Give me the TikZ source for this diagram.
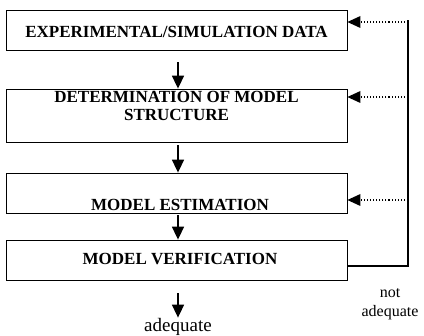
\documentclass[tikz,border=0pt]{standalone}
\usepackage{fontspec}
\setmainfont{Liberation Serif}
\usetikzlibrary{arrows.meta}
\tikzset{
  box/.style={draw, line width=0.8pt, minimum width=341pt, inner sep=0pt},
  lbl/.style={font=\fontsize{17}{18}\selectfont\bfseries, align=center, inner sep=0pt},
  darr/.style={line width=1.6pt, -{Triangle[length=13pt,width=12pt]}},
  dotarr/.style={line width=1.1pt, dotted, -{Triangle[length=13pt,width=12pt,line width=0pt]}},
  fb/.style={line width=1.8pt},
  txt/.style={font=\fontsize{16}{19}\selectfont, align=center, inner sep=0pt}
}
\begin{document}
\begin{tikzpicture}[x=1pt,y=-1pt]
\useasboundingbox (0,0) rectangle (424,336);
\fill[white] (0,0) rectangle (424,336);
% boxes
\node[box, minimum height=40pt] (b1) at (176.5,30) {};
\node[box, minimum height=53pt] (b2) at (176.5,115.5) {};
\node[box, minimum height=40pt] (b3) at (176.5,193) {};
\node[box, minimum height=40pt] (b4) at (176.5,260) {};
% labels
\node[lbl] (t1) at (176.5,32) {EXPERIMENTAL/SIMULATION DATA};
\node[lbl] (t2) at (176.5,106) {DETERMINATION OF MODEL\\STRUCTURE};
\node[lbl] (t3) at (180,205) {MODEL ESTIMATION};
\node[lbl] (t4) at (180,259) {MODEL VERIFICATION};
\node[txt, anchor=base, font=\fontsize{19}{21}\selectfont] (adq) at (178,332) {adequate};
\node[txt] (na) at (390,304) {not\\adequate};
% down arrows
\draw[darr] ([xshift=1.5pt,yshift=-12pt]b1.south) -- ([xshift=1.5pt]b2.north);
\draw[darr] ([xshift=1.5pt,yshift=-3pt]b2.south) -- ([xshift=1.5pt]b3.north);
\draw[darr] ([xshift=1.5pt,yshift=-2pt]b3.south) -- ([xshift=1.5pt]b4.north);
\draw[darr] ([xshift=1.5pt,yshift=-13pt]b4.south) -- ([yshift=1pt]adq.north);
% feedback
\coordinate (fbTop) at (408,20);
\coordinate (fbBot) at (408,266);
\coordinate (d1) at ([yshift=8pt]b1.east);
\coordinate (d2) at ([yshift=18.5pt]b2.east);
\coordinate (d3) at ([yshift=-7pt]b3.east);
\draw[fb] ([yshift=-6pt]b4.east) -- (fbBot) -- (fbTop);
\draw[dotarr] ([xshift=-3pt]fbTop |- d1) -- (d1);
\draw[dotarr] ([xshift=-3pt]fbTop |- d2) -- (d2);
\draw[dotarr] ([xshift=-3pt]fbTop |- d3) -- (d3);
\end{tikzpicture}
\end{document}
